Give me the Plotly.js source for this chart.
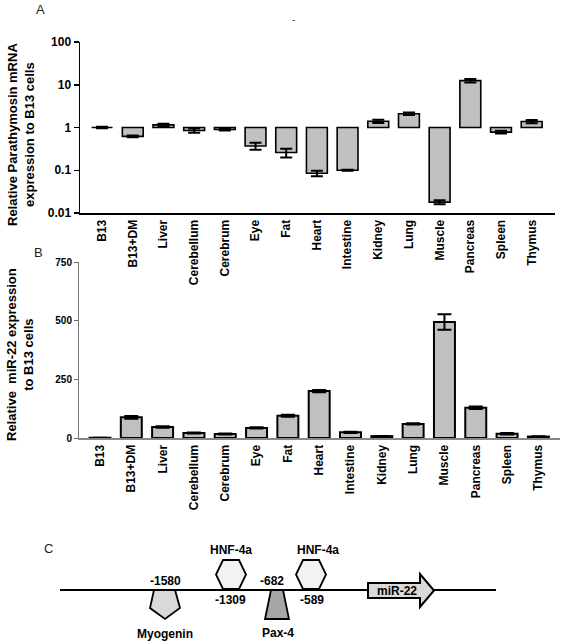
<!DOCTYPE html>
<html>
<head>
<meta charset="utf-8">
<script src="https://cdn.plot.ly/plotly-3.0.1.min.js"></script>
<style>html,body{margin:0;padding:0;background:#fff;}#chart{width:563px;height:644px;}</style>
</head>
<body>
<div id="chart"></div>
<script>
// ---------- data ----------
const categories = ['B13','B13+DM','Liver','Cerebellum','Cerebrum','Eye','Fat','Heart','Intestine','Kidney','Lung','Muscle','Pancreas','Spleen','Thymus'];
const parathymosin = [1.0, 0.62, 1.15, 0.85, 0.9, 0.37, 0.26, 0.085, 0.1, 1.4, 2.1, 0.018, 12.5, 0.78, 1.38];
const parathymosinErr = [0.04, 0.03, 0.08, 0.1, 0.05, 0.07, 0.06, 0.013, 0.003, 0.12, 0.15, 0.002, 1.2, 0.06, 0.12];
const mir22 = [1, 88, 47, 21, 17, 43, 95, 200, 24, 8, 60, 494, 129, 18, 6];
const mir22Err = [0.5, 6, 3, 2, 2, 3, 4, 5, 3, 1, 3, 33, 5, 3, 1];
const tickValsA = [0.01, 0.1, 1, 10, 100];
const tickTextA = ['0.01', '0.1', '1', '10', '100'];
const tickValsB = [0, 250, 500, 750];
const tickTextB = ['0', '250', '500', '750'];
const refLevel = 1;
const siteFactors = ['Myogenin', 'HNF-4a', 'Pax-4', 'HNF-4a'];
const sitePositions = ['-1580', '-1309', '-682', '-589'];
const geneName = 'miR-22';

// ---------- layout helpers (pixels -> paper) ----------
const W = 563, H = 644;
const px = x => x / W;
const py = y => 1 - y / H;
const FONT = 'Arial, "Liberation Sans", sans-serif';
const BAR_FILL = '#c0c0c0';
function pathFrom(points) {
  return 'M ' + points.map(p => px(p[0]) + ',' + py(p[1])).join(' L ') + ' Z';
}

// ---------- traces ----------
const traces = [
  {type: 'bar', x: categories, y: parathymosin.map(v => v - refLevel), base: categories.map(() => refLevel),
    xaxis: 'x', yaxis: 'y', width: 0.68, marker: {color: BAR_FILL, line: {color: '#000', width: 1.6}}, hoverinfo: 'skip', showlegend: false},
  {type: 'scatter', mode: 'markers', x: categories, y: parathymosin, xaxis: 'x', yaxis: 'y', marker: {size: 1, opacity: 0},
    error_y: {type: 'data', array: parathymosinErr, visible: true, color: '#000', thickness: 2, width: 6}, hoverinfo: 'skip', showlegend: false},
  {type: 'bar', x: categories, y: mir22, xaxis: 'x2', yaxis: 'y2', width: 0.67, marker: {color: BAR_FILL, line: {color: '#000', width: 2}},
    error_y: {type: 'data', array: mir22Err, visible: true, color: '#000', thickness: 2, width: 7}, hoverinfo: 'skip', showlegend: false}
];

// ---------- diagram (panel C) layout ----------
const lineY = 590;
const siteX = [165, 231, 277, 311];
const shapes = [];
shapes.push({type: 'line', xref: 'paper', yref: 'paper', x0: px(60), x1: px(496), y0: py(lineY), y1: py(lineY), line: {color: '#000', width: 2}});
(function () { const c = siteX[0];
  shapes.push({type: 'path', xref: 'paper', yref: 'paper', fillcolor: '#d9d9d9', line: {color: '#000', width: 1.8},
    path: pathFrom([[c - 11, lineY], [c + 10, lineY], [c + 15, 608], [c, 619], [c - 15, 608]])}); })();
[siteX[1], siteX[3]].forEach(c => {
  shapes.push({type: 'path', xref: 'paper', yref: 'paper', fillcolor: '#f2f2f2', line: {color: '#000', width: 1.8},
    path: pathFrom([[c - 8, 560], [c + 8, 560], [c + 15, 574.5], [c + 8, 589], [c - 8, 589], [c - 15, 574.5]])}); });
(function () { const c = siteX[2];
  shapes.push({type: 'path', xref: 'paper', yref: 'paper', fillcolor: '#a6a6a6', line: {color: '#000', width: 1.8},
    path: pathFrom([[c - 6, lineY], [c + 6, lineY], [c + 12, 619], [c - 12, 619]])}); })();
shapes.push({type: 'path', xref: 'paper', yref: 'paper', fillcolor: '#d9d9d9', line: {color: '#000', width: 2},
  path: pathFrom([[368, 583], [420, 583], [420, 574], [434, 590.5], [420, 607], [420, 598], [368, 598]])});

const bold12 = {family: FONT, size: 12, color: '#000', weight: 'bold'};
function ann(text, x, y, font, extra) {
  return Object.assign({text: text, xref: 'paper', yref: 'paper', x: px(x), y: py(y), xanchor: 'center', yanchor: 'middle', showarrow: false, font: font}, extra || {});
}
const annotations = [
  ann('A', 40, 9, {family: FONT, size: 13, color: '#222'}),
  ann('B', 38, 253, {family: FONT, size: 13, color: '#222'}),
  ann('C', 48, 548, {family: FONT, size: 13, color: '#222'}),
  ann('-', 293, 20, {family: FONT, size: 10, color: '#444'}),
  ann('Relative Parathymosin mRNA<br>expression to B13 cells', 21, 135, {family: FONT, size: 13, color: '#000', weight: 'bold'}, {textangle: -90}),
  ann('Relative  miR-22 expression<br>to B13 cells', 20, 355, {family: FONT, size: 13, color: '#000', weight: 'bold'}, {textangle: -90}),
  ann(sitePositions[0], 165, 581, bold12), ann(siteFactors[0], 165, 634, bold12),
  ann(siteFactors[1], 231, 550, bold12), ann(sitePositions[1], 230, 600, bold12),
  ann(sitePositions[2], 272, 581, bold12), ann(siteFactors[2], 278, 633, bold12),
  ann(siteFactors[3], 318, 550, bold12), ann(sitePositions[3], 312, 600, bold12),
  ann(geneName, 397, 590.5, bold12)
];

const tickFontX = {family: FONT, size: 12, color: '#000', weight: 'bold'};
const layout = {
  width: W, height: H, margin: {l: 0, r: 0, t: 0, b: 0},
  paper_bgcolor: '#fff', plot_bgcolor: 'rgba(0,0,0,0)', showlegend: false, bargap: 0,
  xaxis: {domain: [px(80), px(555)], anchor: 'y', type: 'category', range: [-0.72, 14.76], tickangle: -90, ticks: '', showline: true, linecolor: '#000', linewidth: 2, showgrid: false, zeroline: false, tickfont: tickFontX, fixedrange: true},
  yaxis: {domain: [py(213), py(42)], anchor: 'x', type: 'log', range: [-2, 2], tickmode: 'array', tickvals: tickValsA, ticktext: tickTextA, ticks: 'outside', ticklen: 5, tickwidth: 1.5, tickcolor: '#000', showline: true, linecolor: '#000', linewidth: 1.5, showgrid: false, zeroline: false, tickfont: {family: FONT, size: 12, color: '#000', weight: 'bold'}, fixedrange: true},
  xaxis2: {domain: [px(79), px(560)], anchor: 'y2', type: 'category', range: [-0.67, 14.69], tickangle: -90, ticks: '', showline: true, linecolor: '#888', linewidth: 2, showgrid: false, zeroline: false, tickfont: tickFontX, fixedrange: true},
  yaxis2: {domain: [py(438), py(262)], anchor: 'x2', range: [0, 750], tickmode: 'array', tickvals: tickValsB, ticktext: tickTextB, ticks: 'outside', ticklen: 4, tickwidth: 1, tickcolor: '#666', showline: true, linecolor: '#777', linewidth: 1, showgrid: false, zeroline: false, tickfont: {family: FONT, size: 10, color: '#000', weight: 'bold'}, fixedrange: true},
  shapes: shapes, annotations: annotations
};

Plotly.newPlot('chart', traces, layout, {displayModeBar: false, staticPlot: true});
</script>
</body>
</html>
